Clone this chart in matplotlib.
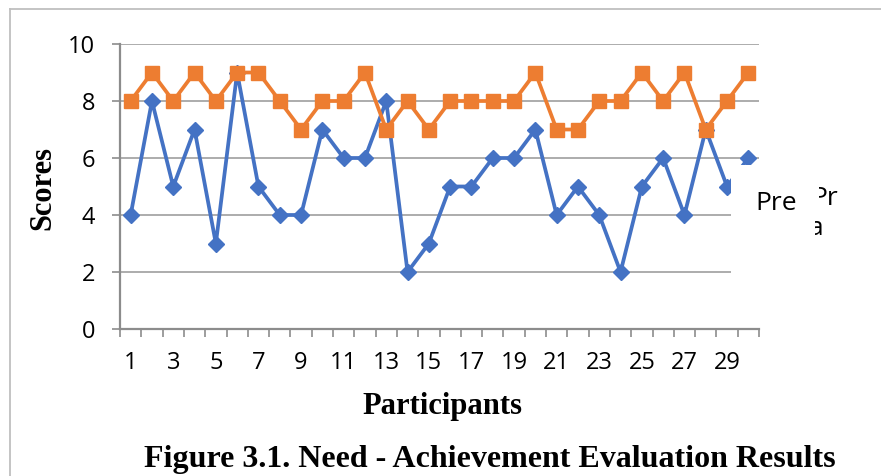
import matplotlib
matplotlib.use("Agg")
import matplotlib.pyplot as plt
from matplotlib.patches import Rectangle
from matplotlib.lines import Line2D
from matplotlib.transforms import Bbox

# data
participants = list(range(1, 31))
pre_scores = [4, 8, 5, 7, 3, 9, 5, 4, 4, 7, 6, 6, 8, 2, 3,
              5, 5, 6, 6, 7, 4, 5, 4, 2, 5, 6, 4, 7, 5, 6]
post_scores = [8, 9, 8, 9, 8, 9, 9, 8, 7, 8, 8, 9, 7, 8, 7,
               8, 8, 8, 8, 9, 7, 7, 8, 8, 9, 8, 9, 7, 8, 9]
x_labels = [str(i) for i in range(1, 31, 2)]
y_ticks = [0, 2, 4, 6, 8, 10]

W, H = 881, 476
fig = plt.figure(figsize=(W / 100, H / 100), dpi=100)

def fx(px):
    return px / W

def fy(py):
    return 1 - py / H

sans = ["Open Sans", "DejaVu Sans"]
serif = "Liberation Serif"
blue = "#4472C4"
orange = "#ED7D31"
axis_grey = "#8c8c8c"

ax = fig.add_axes([fx(120), fy(329), fx(759) - fx(120), fy(44) - fy(329)])

ax.plot(participants, pre_scores, color=blue, lw=2.7, marker="D", ms=8.3,
        zorder=3, clip_on=False)
ax.plot(participants, post_scores, color=orange, lw=2.7, marker="s", ms=10,
        zorder=4, clip_on=False)

ax.set_xlim(0.5, 30.5)
ax.set_ylim(0, 10)

for s in ["top", "right"]:
    ax.spines[s].set_visible(False)
for s in ["left", "bottom"]:
    ax.spines[s].set_color(axis_grey)
    ax.spines[s].set_linewidth(1.6)

ax.set_yticks(y_ticks)
ax.set_yticklabels([str(v) for v in y_ticks], fontsize=17, family=sans)
ax.tick_params(axis="y", length=6, width=1.2, color=axis_grey, pad=12)
ax.yaxis.grid(True, color="#a6a6a6", lw=1.3)
ax.set_axisbelow(True)

ax.set_xticks(list(range(1, 31, 2)))
ax.set_xticklabels(x_labels, fontsize=17, family=sans)
ax.set_xticks([i + 0.5 for i in range(0, 31)], minor=True)
ax.tick_params(axis="x", which="major", length=0, pad=16)
ax.tick_params(axis="x", which="minor", length=6, width=1.2, color=axis_grey)

# axis titles and caption
fig.text(fx(442), fy(414), "Participants", fontsize=22, fontweight="bold",
         family=serif, ha="center", va="baseline")
fig.text(fx(43), fy(188), "Scores", fontsize=22, fontweight="bold",
         family=serif, ha="center", va="center", rotation=90)
fig.text(fx(490), fy(467), "Figure 3.1. Need - Achievement Evaluation Results",
         fontsize=23, fontweight="bold", family=serif,
         ha="center", va="baseline")

# half-hidden legend area on the right
fig.add_artist(Rectangle((fx(731), fy(290)), fx(881) - fx(731), fy(165) - fy(290),
                         facecolor="white", edgecolor="none", zorder=10,
                         transform=fig.transFigure))
fig.text(fx(755), fy(210), "Pre", fontsize=19, family=sans,
         va="baseline", zorder=11)
t1 = fig.text(fx(811), fy(205), "Pr", fontsize=19, family=sans,
              va="baseline", zorder=11)
t1.set_clip_box(Bbox.from_extents(819, H - 207, 881, H - 184))
t2 = fig.text(fx(809), fy(235), "a", fontsize=19, family=sans,
              va="baseline", zorder=11)
t2.set_clip_box(Bbox.from_extents(815, H - 240, 881, H - 219))

# outer frame (only top and left edges are visible)
fig.add_artist(Line2D([fx(10), 1], [fy(9), fy(9)], color="#bfbfbf", lw=1.3,
                      transform=fig.transFigure))
fig.add_artist(Line2D([fx(10), fx(10)], [fy(9), 0], color="#bfbfbf", lw=1.3,
                      transform=fig.transFigure))

fig.savefig("out.png", dpi=100)
